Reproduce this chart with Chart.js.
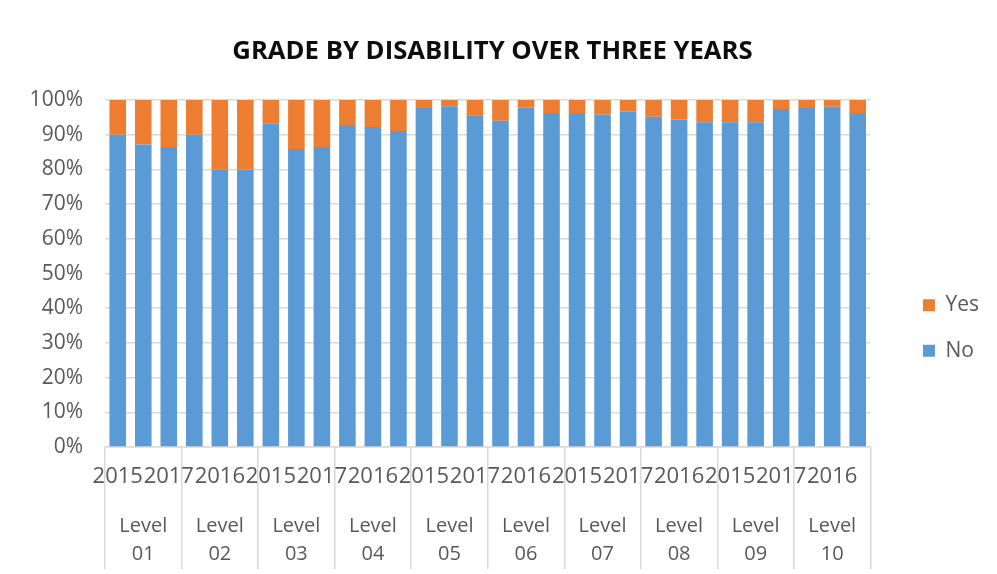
<!DOCTYPE html>
<html>
<head>
<meta charset="utf-8">
<script src="https://cdn.jsdelivr.net/npm/chart.js@4/dist/chart.umd.min.js"></script>
<style>
  html, body { margin: 0; padding: 0; background: #ffffff; }
  #wrap { width: 997px; height: 574px; position: relative; }
</style>
</head>
<body>
<div id="wrap"><canvas id="chart" width="997" height="574"></canvas></div>
<script>
// Grade levels and school years
const levels = ['01', '02', '03', '04', '05', '06', '07', '08', '09', '10'];
const years = ['2015', '2016', '2017'];

// Share of students per grade and year (percent)
const noShare = [
  90.0, 87.2, 86.5,
  90.0, 79.9, 80.0,
  93.2, 85.9, 86.5,
  92.8, 92.2, 91.1,
  97.7, 98.2, 95.6,
  94.0, 97.8, 96.3,
  96.3, 95.8, 96.6,
  95.2, 94.4, 93.6,
  93.6, 93.6, 97.4,
  97.7, 98.1, 96.3
];
const yesShare = [
  10.0, 12.8, 13.5,
  10.0, 20.1, 20.0,
   6.8, 14.1, 13.5,
   7.2,  7.8,  8.9,
   2.3,  1.8,  4.4,
   6.0,  2.2,  3.7,
   3.7,  4.2,  3.4,
   4.8,  5.6,  6.4,
   6.4,  6.4,  2.6,
   2.3,  1.9,  3.7
];

// Value axis ticks
const yTicks = [0, 10, 20, 30, 40, 50, 60, 70, 80, 90, 100];

// One category per (level, year) pair, plus the level captions underneath
const yearLabels = [];
levels.forEach(() => years.forEach(y => yearLabels.push(y)));
const levelLabels = levels.map(l => ['Level', l]);

const FONT = "'Open Sans', 'Liberation Sans', sans-serif";
const TEXT = '#595959';
const GRID = '#d9d9d9';

// Places the legend block beside the plot and nudges the title
const blockOffsets = {
  id: 'blockOffsets',
  afterLayout(chart) {
    const lg = chart.legend;
    if (lg) {
      const dx = 28, dy = 41;
      lg.left += dx; lg.right += dx;
      lg.top += dy; lg.bottom += dy;
    }
    const tb = chart.titleBlock;
    if (tb) {
      tb.left += 12; tb.right += 12;
    }
  }
};

new Chart(document.getElementById('chart'), {
  type: 'bar',
  data: {
    labels: yearLabels,
    datasets: [
      { label: 'No', data: noShare, backgroundColor: '#5B9BD5', borderWidth: 0 },
      { label: 'Yes', data: yesShare, backgroundColor: '#ED7D31', borderWidth: 0 }
    ]
  },
  options: {
    responsive: false,
    animation: false,
    layout: { padding: { left: 0, right: 36, top: 0, bottom: 0 } },
    datasets: {
      bar: { categoryPercentage: 1.0, barPercentage: 0.65 }
    },
    plugins: {
      title: {
        display: true,
        text: 'GRADE BY DISABILITY OVER THREE YEARS',
        color: '#0d0d0d',
        font: { family: FONT, size: 25.7, weight: 'bold' },
        padding: { top: 36.6, bottom: 32.6 }
      },
      legend: {
        position: 'right',
        reverse: true,
        labels: {
          color: TEXT,
          font: { family: FONT, size: 21 },
          boxWidth: 12,
          boxHeight: 12,
          padding: 24.5
        }
      },
      tooltip: { enabled: false }
    },
    scales: {
      x: {
        type: 'category',
        stacked: true,
        offset: true,
        afterFit: s => { s.height = 40; },
        border: { display: true, color: GRID, width: 1.5 },
        grid: {
          offset: true,
          drawOnChartArea: false,
          drawTicks: true,
          tickLength: 122,
          lineWidth: 1.5,
          color: ctx => (ctx.type !== 'tick' || ctx.index % 3 === 0) ? GRID : 'rgba(0,0,0,0)'
        },
        ticks: {
          autoSkip: false,
          maxRotation: 0,
          minRotation: 0,
          padding: -105,
          color: TEXT,
          font: { family: FONT, size: 22 },
          callback: function (val, i) {
            return i % 2 === 0 ? this.getLabelForValue(val) : '';
          }
        }
      },
      x2: {
        type: 'category',
        position: 'bottom',
        weight: 1,
        labels: levelLabels,
        offset: true,
        afterFit: s => { s.height = 87; },
        border: { display: false },
        grid: { display: false, drawTicks: false },
        ticks: {
          autoSkip: false,
          maxRotation: 0,
          minRotation: 0,
          padding: 25,
          color: TEXT,
          font: { family: FONT, size: 20, lineHeight: 1.4 }
        }
      },
      y: {
        type: 'linear',
        stacked: true,
        min: 0,
        max: 100,
        afterFit: s => { s.width = 105; },
        afterBuildTicks: s => { s.ticks = yTicks.map(v => ({ value: v })); },
        border: { display: false },
        grid: { color: GRID, lineWidth: 1.5, drawTicks: false },
        ticks: {
          padding: 22,
          color: TEXT,
          font: { family: FONT, size: 21 },
          callback: v => v + '%'
        }
      }
    }
  },
  plugins: [blockOffsets]
});
</script>
</body>
</html>
